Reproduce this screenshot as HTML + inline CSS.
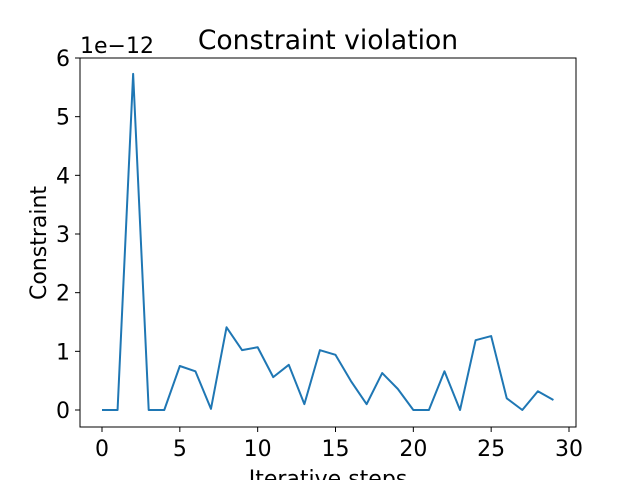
<!DOCTYPE html>
<html><head><meta charset="utf-8"><style>
html,body{margin:0;padding:0;background:#fff;}
svg{display:block;font-family:"DejaVu Sans","Liberation Sans",sans-serif;}
</style></head><body>
<svg id="chart" width="640" height="480" xmlns="http://www.w3.org/2000/svg">
<rect width="640" height="480" fill="#fff"/>
<text x="328" y="49" font-size="26.6" text-anchor="middle">Constraint violation</text>
<text x="80" y="53" font-size="22">1e−12</text>
<text x="328" y="486" font-size="22" text-anchor="middle">Iterative steps</text>
<text transform="translate(46,243) rotate(-90)" font-size="22" text-anchor="middle">Constraint</text>
<g id="xticks"></g>
<g id="yticks"></g>
<path id="line" fill="none" stroke="#1f77b4" stroke-width="2" stroke-linejoin="round"/>
<rect x="80" y="58" width="496" height="369" fill="none" stroke="#000" stroke-width="1"/>
</svg>
<script>
const steps = Array.from({length:30},(_,i)=>i);
const values = [0,0,5.73,0,0,0.75,0.66,0.02,1.41,1.02,1.07,0.56,0.77,0.10,1.02,0.94,0.49,0.10,0.63,0.36,0,0,0.66,0,1.19,1.26,0.2,0,0.32,0.17];
const xTickLabels = [0,5,10,15,20,25,30];
const yTickLabels = [0,1,2,3,4,5,6];
const NS="http://www.w3.org/2000/svg";
const xs = v => 102 + v*(569-102)/30;
const ys = v => 410 - v*(410-58)/6;
const line=document.getElementById('line');
line.setAttribute('d', steps.map((s,i)=>(i?'L':'M')+xs(s)+','+ys(values[i])).join(' '));
const xg=document.getElementById('xticks'), yg=document.getElementById('yticks');
xTickLabels.forEach(t=>{
  const l=document.createElementNS(NS,'line');
  
  
  l.setAttribute('x1',xs(t));l.setAttribute('x2',xs(t));l.setAttribute('y1',427);l.setAttribute('y2',432);l.setAttribute('stroke','#000');
  xg.appendChild(l);
  const tx=document.createElementNS(NS,'text');
  
  
  tx.setAttribute('x',xs(t));tx.setAttribute('y',456);tx.setAttribute('font-size','22');tx.setAttribute('text-anchor','middle');
  tx.textContent=t;xg.appendChild(tx);
});
yTickLabels.forEach(t=>{
  const l=document.createElementNS(NS,'line');
  
  
  l.setAttribute('x1',75);l.setAttribute('x2',80);l.setAttribute('y1',ys(t));l.setAttribute('y2',ys(t));l.setAttribute('stroke','#000');
  yg.appendChild(l);
  const tx=document.createElementNS(NS,'text');
  
  
  tx.setAttribute('x',70);tx.setAttribute('y',ys(t)+8);tx.setAttribute('font-size','22');tx.setAttribute('text-anchor','end');
  tx.textContent=t;yg.appendChild(tx);
});
</script>
</body></html>
